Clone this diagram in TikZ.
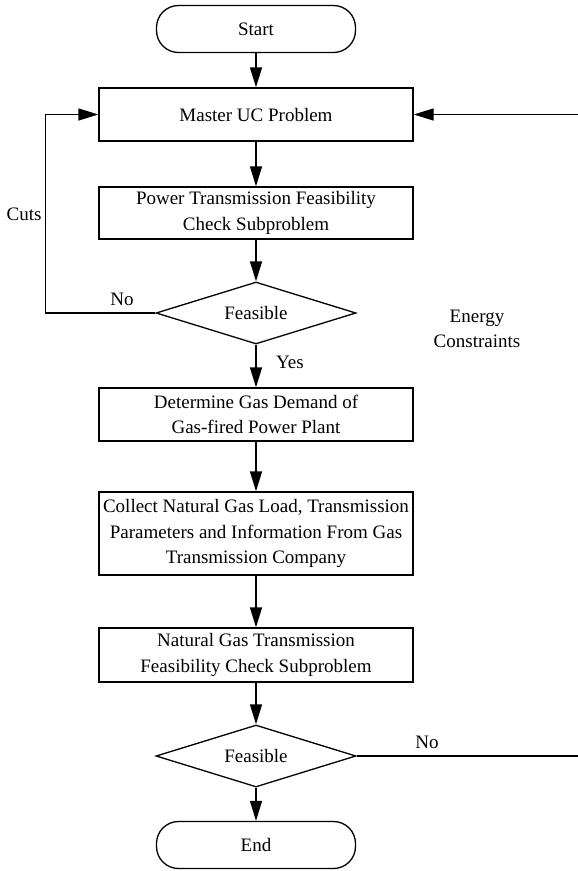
\documentclass[tikz,border=0pt]{standalone}
\usepackage{fontspec}
\setmainfont{LiberationSerif}[Extension=.ttf,UprightFont=*-Regular,BoldFont=*-Bold,ItalicFont=*-Italic]
\usetikzlibrary{shapes.geometric,arrows.meta}

\begin{document}
\begin{tikzpicture}[x=1pt,y=-1pt,
	every node/.style={font=\fontsize{19}{25.5}\selectfont},
	box/.style={draw,line width=1.3pt,minimum width=314pt,inner xsep=2pt,align=center},
	term/.style={draw,line width=1.3pt,rounded corners=22pt,minimum width=199pt,minimum height=47pt},
	decide/.style={draw,line width=1.3pt,diamond,aspect=3.2,minimum width=200pt,minimum height=62pt,inner sep=0pt},
	arr/.style={line width=1.3pt,-{Triangle[length=20pt,width=12pt]}}]
	\useasboundingbox (0,0) rectangle (578,871);

	% The main column of the chart
	\node[term] (start) at (256,29) {Start};
	\node[box,minimum height=53pt] (master) at (256,114.5) {Master UC Problem};
	\node[box,minimum height=52pt] (power) at (256,213) {Power Transmission Feasibility\\Check Subproblem};
	\node[decide] (feas1) at (256,313) {Feasible};
	\node[box,minimum height=53pt] (demand) at (256,414.5) {Determine Gas Demand of\\Gas-fired Power Plant};
	\node[box,minimum height=83pt] (collect) at (256,533.5) {Collect Natural Gas Load, Transmission\\Parameters and Information From Gas\\Transmission Company};
	\node[box,minimum height=54pt] (natgas) at (256,655) {Natural Gas Transmission\\Feasibility Check Subproblem};
	\node[decide] (feas2) at (256,756) {Feasible};
	\node[term] (finish) at (256,845) {End};

	\draw[arr] (start) -- (master);
	\draw[arr] (master) -- (power);
	\draw[arr] (power) -- (feas1);
	\draw[arr] (feas1) -- (demand);
	\draw[arr] (demand) -- (collect);
	\draw[arr] (collect) -- (natgas);
	\draw[arr] (natgas) -- (feas2);
	\draw[arr] (feas2) -- (finish);

	% The cuts that go back to the master problem
	\draw[arr] (feas1.west) -- ++(-110,0) |- (master.west);

	% The energy constraints that come in from the right
	\coordinate (ein) at (578,114.5);
	\coordinate (eout) at (578,756);
	\draw[arr] (ein) -- (master.east);
	\draw[line width=1.3pt] (feas2.east) -- (eout);

	\node (no1) at (122,299) {No};
	\node (cutslbl) at (24,214) {Cuts};
	\node (yes1) at (290,362) {Yes};
	\node (no2) at (427,742) {No};
	\node[align=center] (energylbl) at (477,329) {Energy\\Constraints};
\end{tikzpicture}
\end{document}
